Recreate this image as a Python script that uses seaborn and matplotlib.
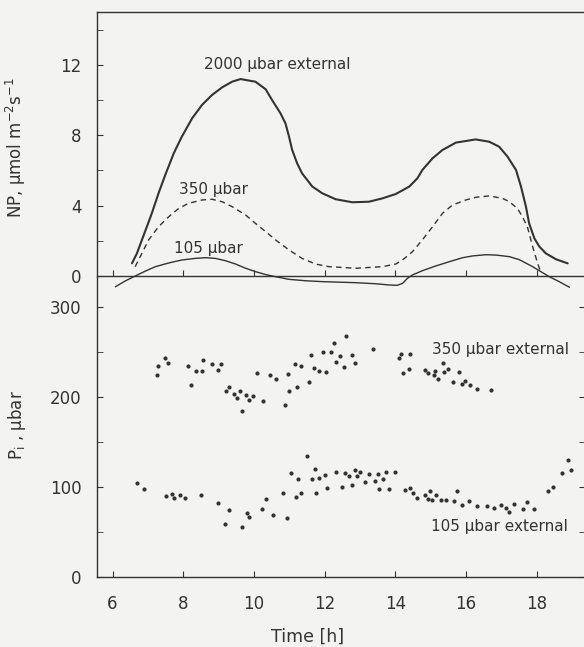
import numpy as np
import pandas as pd
import seaborn as sns
import matplotlib.pyplot as plt
from matplotlib.ticker import MultipleLocator

# net photosynthesis (NP) traces
t_2000 = [6.55, 6.69, 6.83, 6.97, 7.11, 7.30, 7.49, 7.73, 7.96, 8.25, 8.53, 8.81,
          9.10, 9.38, 9.62, 10.04, 10.33, 10.51, 10.75, 10.89, 10.99, 11.08, 11.22,
          11.36, 11.65, 11.93, 12.31, 12.78, 13.25, 13.63, 14.01, 14.39, 14.62, 14.76,
          15.05, 15.33, 15.71, 16.27, 16.65, 16.93, 17.17, 17.41, 17.55, 17.69, 17.78,
          17.93, 18.07, 18.25, 18.54, 18.87]
np_2000 = [0.72, 1.29, 2.05, 2.80, 3.56, 4.70, 5.74, 6.97, 7.92, 8.96, 9.72, 10.28,
           10.72, 11.04, 11.19, 11.04, 10.61, 10.0, 9.24, 8.67, 7.92, 7.16, 6.40,
           5.83, 5.08, 4.70, 4.36, 4.19, 4.22, 4.41, 4.66, 5.08, 5.55, 6.02,
           6.69, 7.16, 7.58, 7.76, 7.63, 7.35, 6.78, 6.02, 5.08, 3.94, 2.99,
           2.13, 1.67, 1.29, 0.95, 0.72]

t_350 = [6.64, 6.83, 7.02, 7.30, 7.59, 7.87, 8.15, 8.53, 8.81, 9.10, 9.38, 9.76,
         10.04, 10.33, 10.61, 10.99, 11.36, 11.74, 12.12, 12.88, 13.63, 14.01, 14.20,
         14.48, 14.76, 15.05, 15.33, 15.61, 15.99, 16.27, 16.65, 17.03, 17.22, 17.45,
         17.59, 17.73, 17.78, 17.88, 18.02, 18.12]
np_350 = [0.53, 1.29, 2.05, 2.80, 3.37, 3.84, 4.13, 4.32, 4.36, 4.22, 3.94, 3.47,
          2.99, 2.52, 2.05, 1.48, 1.0, 0.68, 0.53, 0.44, 0.53, 0.68, 0.91,
          1.38, 2.05, 2.80, 3.56, 4.03, 4.32, 4.47, 4.55, 4.41, 4.22, 3.84,
          3.37, 2.80, 2.42, 1.67, 0.72, 0.15]

t_105 = [6.08, 6.36, 6.64, 6.93, 7.21, 7.59, 7.96, 8.34, 8.63, 8.91, 9.19, 9.48,
         9.76, 10.04, 10.33, 10.61, 10.99, 11.46, 11.93, 12.88, 13.44, 13.82, 14.05,
         14.20, 14.34, 14.48, 14.76, 15.14, 15.52, 15.90, 16.18, 16.56, 16.84, 17.22,
         17.50, 17.88, 18.16, 18.35, 18.63, 18.92]
np_105 = [-0.61, -0.28, 0.0, 0.28, 0.53, 0.74, 0.91, 1.0, 1.04, 1.0, 0.87, 0.68,
          0.44, 0.25, 0.08, -0.04, -0.19, -0.27, -0.32, -0.38, -0.44, -0.51, -0.53,
          -0.42, -0.13, 0.06, 0.30, 0.57, 0.81, 1.04, 1.14, 1.21, 1.19, 1.10,
          0.93, 0.53, 0.19, -0.04, -0.32, -0.64]

# intercellular CO2 pressure (Pi) measurements
pts_t_350 = [7.27, 7.29, 7.49, 7.56, 8.13, 8.23, 8.35, 8.52, 8.57, 8.82, 8.99, 9.06,
             9.20, 9.30, 9.44, 9.53, 9.60, 9.67, 9.78, 9.85, 9.96, 10.09, 10.25, 10.44,
             10.63, 10.89, 10.97, 11.00, 11.16, 11.21, 11.33, 11.55, 11.60, 11.70, 11.85,
             11.94, 12.03, 12.17, 12.27, 12.33, 12.43, 12.55, 12.61, 12.78, 12.87, 13.37,
             14.09, 14.16, 14.40, 14.21, 14.37, 14.84, 14.93, 15.08, 15.12, 15.19, 15.34,
             15.38, 15.48, 15.62, 15.79, 15.88, 15.97, 16.10, 16.32, 16.69]
pts_pi_350 = [224, 234, 243, 238, 234, 213, 229, 229, 241, 236, 230, 236,
              206, 211, 203, 199, 207, 184, 202, 197, 201, 226, 195, 224,
              220, 191, 225, 207, 236, 211, 234, 217, 246, 232, 229,
              250, 228, 250, 260, 239, 245, 233, 267, 246, 237, 253,
              243, 248, 248, 226, 231, 230, 226, 224, 229, 220, 237,
              228, 231, 216, 228, 214, 218, 213, 209, 208]

pts_t_105 = [6.70, 6.90, 7.50, 7.68, 7.74, 7.91, 8.06, 8.51, 8.99, 9.18, 9.30, 9.67,
             9.80, 9.85, 10.24, 10.33, 10.55, 10.83, 10.93, 11.05, 11.18, 11.25, 11.34,
             11.50, 11.64, 11.72, 11.74, 11.85, 12.00, 12.06, 12.31, 12.50, 12.56, 12.70,
             12.76, 12.85, 12.91, 13.00, 13.13, 13.26, 13.41, 13.50, 13.54, 13.64, 13.73,
             13.81, 14.00, 14.28, 14.42, 14.50, 14.62, 14.83, 14.92, 14.97, 15.04, 15.16,
             15.30, 15.42, 15.65, 15.75, 15.88, 16.07, 16.30, 16.60, 16.80, 16.98, 17.12,
             17.21, 17.36, 17.61, 17.73, 17.93, 18.30, 18.46, 18.72, 18.89, 18.95]
pts_pi_105 = [104, 98, 90, 92, 88, 91, 88, 91, 82, 59, 74, 56,
              71, 67, 75, 87, 69, 93, 65, 115, 89, 109, 93,
              134, 109, 120, 93, 110, 113, 99, 116, 100, 115, 112,
              102, 119, 112, 116, 106, 114, 107, 114, 98, 109, 117,
              98, 116, 97, 99, 93, 88, 91, 87, 95, 86, 91,
              85, 86, 84, 95, 80, 84, 79, 79, 77, 80, 77,
              72, 81, 76, 83, 76, 95, 100, 115, 130, 119]

x_ticks = [6, 8, 10, 12, 14, 16, 18]

sns.set_style('ticks')
plt.rcParams['font.family'] = ['DejaVu Sans']
ink = '#333333'
bg = '#f3f3f1'

fig = plt.figure(figsize=(5.84, 6.47), dpi=100)
fig.patch.set_facecolor(bg)

W, H = 584.0, 647.0
left = 97 / W
width = (585 - 97) / W
ax2 = fig.add_axes([left, 1 - 577 / H, width, 300 / H])
ax1 = fig.add_axes([left, 1 - 293.6 / H, width, 281.6 / H])
for a in (ax1, ax2):
    a.set_facecolor('none')
    a.set_xlim(5.56, 19.36)
    a.set_xticks(x_ticks)
    for s in a.spines.values():
        s.set_color(ink)
        s.set_linewidth(1.0)

# top panel: NP
sns.lineplot(x=t_2000, y=np_2000, ax=ax1, color=ink, linewidth=1.5)
sns.lineplot(x=t_350, y=np_350, ax=ax1, color=ink, linewidth=1.0,
             linestyle=(0, (4, 3)))
sns.lineplot(x=t_105, y=np_105, ax=ax1, color=ink, linewidth=1.0)
ax1.set_ylim(-1, 15)
ax1.spines['bottom'].set_position(('data', 0))
ax1.spines['right'].set_visible(False)
ax1.spines['left'].set_bounds(0, 15)
ax1.set_yticks([0, 4, 8, 12])
ax1.yaxis.set_minor_locator(MultipleLocator(2))
ax1.tick_params(axis='x', direction='in', length=4, color=ink, labelbottom=False)
ax1.tick_params(axis='y', which='both', direction='in', length=4, color=ink,
                pad=11, labelsize=12, labelcolor=ink)
ax1.set_ylabel(r'NP, $\mathregular{\mu}$mol m$^{-2}$s$^{-1}$', fontsize=12, color=ink)
ax1.yaxis.set_label_coords(-0.141, 0.52)
ax1.text(10.66, 12.0, '2000 \u00b5bar external', ha='center', va='center',
         fontsize=11, color=ink)
ax1.text(8.86, 4.94, '350 \u00b5bar', ha='center', va='center', fontsize=11, color=ink)
ax1.text(8.72, 1.59, '105 \u00b5bar', ha='center', va='center', fontsize=11, color=ink)

# bottom panel: Pi
sns.scatterplot(x=pts_t_350, y=pts_pi_350, ax=ax2, color=ink, s=9, linewidth=0)
sns.scatterplot(x=pts_t_105, y=pts_pi_105, ax=ax2, color=ink, s=9, linewidth=0)
ax2.set_ylim(0, 333)
ax2.spines['top'].set_visible(False)
ax2.set_yticks([0, 100, 200, 300])
ax2.yaxis.set_minor_locator(MultipleLocator(50))
ax2.tick_params(axis='y', which='both', left=True, right=True, direction='in',
                length=4, color=ink, pad=11, labelsize=12, labelcolor=ink)
ax2.tick_params(axis='x', direction='in', length=4, color=ink, pad=13,
                labelsize=12, labelcolor=ink)
ax2.set_ylabel(r'P$_\mathregular{i}$ , $\mathregular{\mu}$bar', fontsize=12, color=ink)
ax2.yaxis.set_label_coords(-0.141, 0.507)
ax2.set_xlabel('Time [h]', fontsize=12.5, color=ink)
ax2.xaxis.set_label_coords(0.432, -0.17)
ax2.text(16.98, 252, '350 \u00b5bar external', ha='center', va='center',
         fontsize=11, color=ink)
ax2.text(16.95, 55.5, '105 \u00b5bar external', ha='center', va='center',
         fontsize=11, color=ink)

fig.savefig('out.png', dpi=100, facecolor=bg)
